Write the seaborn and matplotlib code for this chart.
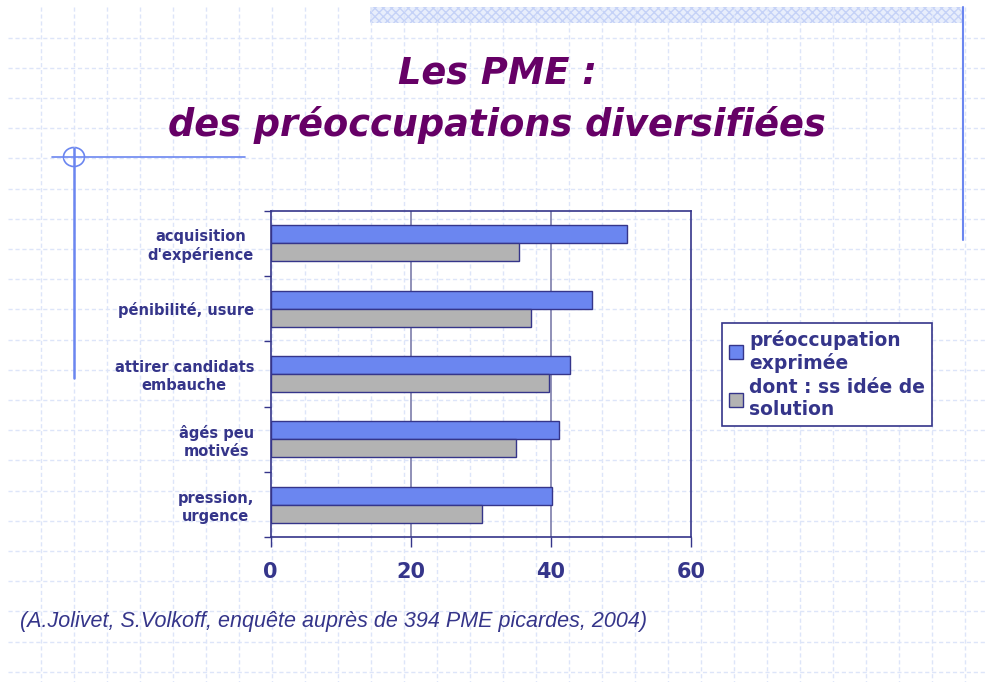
import matplotlib
matplotlib.use("Agg")
import matplotlib.pyplot as plt
import seaborn as sns
import pandas as pd
import numpy as np
from matplotlib.patches import Rectangle, Ellipse

# data
categories = ["acquisition\nd'expérience", "pénibilité, usure", "attirer candidats\nembauche",
              "âgés peu\nmotivés", "pression,\nurgence"]
series = ["préoccupation\nexprimée", "dont : ss idée de\nsolution"]
exprimee = [50.8, 45.9, 42.7, 41.1, 40.2]
sans_solution = [35.5, 37.1, 39.7, 35.0, 30.2]
x_ticks = [0, 20, 40, 60]

title_lines = "Les PME :\ndes préoccupations diversifiées"
source = "(A.Jolivet, S.Volkoff, enquête auprès de 394 PME picardes, 2004)"

navy = "#35358a"
blue = "#6b86f0"
grey = "#b3b3b3"
paper = "#dde5f9"

df = pd.DataFrame({
    "cat": categories * 2,
    "val": exprimee + sans_solution,
    "serie": [series[0]] * len(categories) + [series[1]] * len(categories),
})

sns.set_style("white")
plt.rcParams['font.family'] = ['DejaVu Sans']

W, H = 986, 682
fig = plt.figure(figsize=(W / 100, H / 100), dpi=100)

# background "graph paper" of the slide, in pixel coordinates
bg = fig.add_axes([0, 0, 1, 1], zorder=-5)
bg.set_xlim(0, W)
bg.set_ylim(H, 0)
bg.axis("off")
for x in np.arange(41, W, 33.0):
    bg.plot([x, x], [7, H], color=paper, lw=1, ls=(0, (3, 2)))
for y in np.arange(37.5, H, 30.2):
    bg.plot([8, W], [y, y], color=paper, lw=1, ls=(0, (3, 2)))
band = Rectangle((370, 7), 593, 16, facecolor="#e8eefc", edgecolor="#c5d2f7",
                 hatch="xxxx", lw=0)
bg.add_patch(band)
bg.plot([963, 963], [7, 240], color=blue, lw=1.5)
bg.plot([74, 74], [148, 378], color=blue, lw=1.8)
bg.plot([52, 245], [157, 157], color=blue, lw=1.2)
bg.add_patch(Ellipse((74, 157), 21, 19, fill=False, edgecolor=blue, lw=1.2))

# title and source
fig.text(497 / W, 1 - 99 / H, title_lines, ha="center", va="center", fontsize=26.5,
         fontweight="bold", style="italic", color="#660066", linespacing=1.5)
fig.text(20 / W, 1 - 622 / H, source, ha="left", va="center", fontsize=15.5,
         style="italic", color=navy, family=["Liberation Sans", "DejaVu Sans"])

# chart
ax = fig.add_axes([270.7 / W, 1 - 537.3 / H, (691 - 270.7) / W, (537.3 - 210.7) / H])
ax.set_facecolor("none")
sns.barplot(data=df, x="val", y="cat", hue="serie", orient="h", palette=[blue, grey],
            saturation=1, width=0.55, edgecolor=navy, linewidth=1, ax=ax, zorder=3)

ax.set_xlim(0, 60)
ax.set_xticks(x_ticks)
ax.set_xticklabels([str(t) for t in x_ticks], fontsize=15, fontweight="bold", color=navy)
ax.tick_params(axis="x", length=7, width=1, color=navy, direction="out", pad=11, bottom=True)
ax.set_yticks(range(len(categories)))
ax.set_yticklabels(categories, fontsize=10.5, fontweight="bold", color=navy,
                   multialignment="center")
ax.tick_params(axis="y", which="major", length=0, pad=12)
ax.set_yticks(np.arange(-0.5, len(categories), 1.0), minor=True)
ax.tick_params(axis="y", which="minor", length=5, width=1, color=navy, direction="out", left=True)
ax.set_xlabel("")
ax.set_ylabel("")
for x in x_ticks[1:-1]:
    ax.axvline(x, color="#7d7daa", lw=1.2, zorder=1)
for s in ax.spines.values():
    s.set_color(navy)
    s.set_linewidth(1.2)
    s.set_visible(True)

handles, labels = ax.get_legend_handles_labels()
leg = ax.legend(handles, labels, loc="upper left", bbox_to_anchor=(722 / W, 1 - 323 / H),
                bbox_transform=fig.transFigure, frameon=True, fancybox=False,
                framealpha=1, edgecolor=navy, facecolor="white", borderaxespad=0,
                prop={"size": 13.5, "weight": "bold"}, handlelength=0.75, handleheight=0.75,
                handletextpad=0.35, borderpad=0.35, labelspacing=0.3, title=None)
leg.get_frame().set_linewidth(1.2)
for t in leg.get_texts():
    t.set_color(navy)

fig.savefig("out.png", dpi=100, facecolor="white")
